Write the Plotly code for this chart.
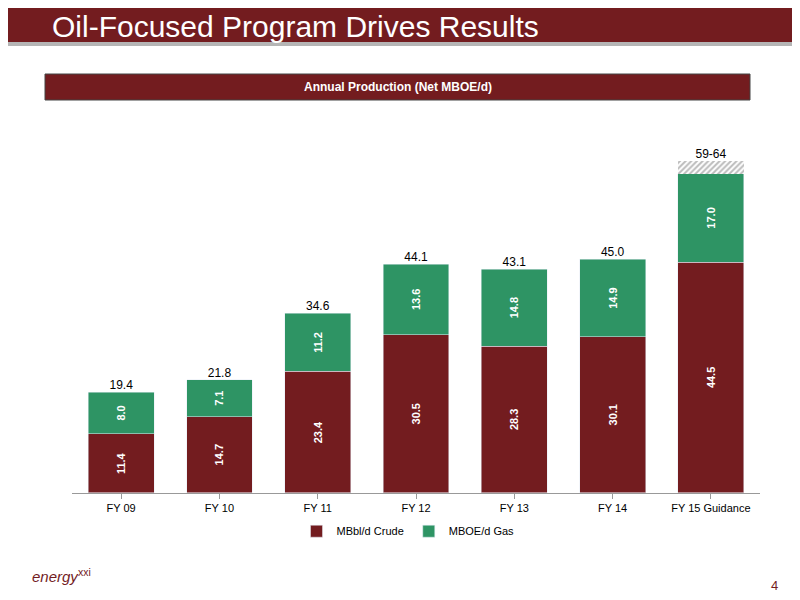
import plotly.graph_objects as go

years = ["FY 09", "FY 10", "FY 11", "FY 12", "FY 13", "FY 14", "FY 15 Guidance"]
crude = [11.4, 14.7, 23.4, 30.5, 28.3, 30.1, 44.5]
gas = [8.0, 7.1, 11.2, 13.6, 14.8, 14.9, 17.0]
upside = [0, 0, 0, 0, 0, 0, 2.5]
totals = ["19.4", "21.8", "34.6", "44.1", "43.1", "45.0", "59-64"]

RED = "#731c1f"
GREEN = "#2e9464"

fig = go.Figure()
fig.add_bar(x=years, y=crude, name="MBbl/d Crude", marker_color=RED,
            text=[f"<b>{v:.1f}</b>" for v in crude], textposition="inside",
            textangle=-90, insidetextanchor="middle",
            textfont=dict(color="white", size=11))
fig.add_bar(x=years, y=gas, name="MBOE/d Gas", marker_color=GREEN,
            text=[f"<b>{v:.1f}</b>" for v in gas], textposition="inside",
            textangle=-90, insidetextanchor="middle",
            textfont=dict(color="white", size=11))
fig.add_bar(x=years, y=upside, showlegend=False, hoverinfo="skip",
            marker=dict(color="white", line=dict(width=0),
                        pattern=dict(shape="/", fgcolor="#777777", bgcolor="white", size=4, solidity=0.5)))
tops = [c + g + u for c, g, u in zip(crude, gas, upside)]
fig.add_scatter(x=years, y=tops, mode="text", text=totals, textposition="top center",
                textfont=dict(size=12, color="black"), showlegend=False, hoverinfo="skip")

fig.update_layout(
    width=800, height=600, barmode="stack", bargap=0.33,
    paper_bgcolor="white", plot_bgcolor="white",
    font=dict(family="Liberation Sans, Arial", color="black"),
    margin=dict(l=0, r=0, t=0, b=0),
    xaxis=dict(domain=[0.08, 0.94], showline=True, linecolor="#999999",
               ticks="outside", tickcolor="#999999", tickfont=dict(size=11)),
    yaxis=dict(domain=[0.192, 0.797], range=[0, 70], visible=False),
    legend=dict(orientation="h", x=0.5, xanchor="center", y=0.128, yanchor="middle",
                traceorder="normal", font=dict(size=11), itemwidth=30),
    shapes=[
        dict(type="rect", xref="paper", yref="paper", x0=0, x1=1, y0=1 - 34 / 600, y1=1,
             fillcolor=RED, line=dict(width=0), layer="below"),
        dict(type="rect", xref="paper", yref="paper", x0=0, x1=1, y0=1 - 38 / 600, y1=1 - 34 / 600,
             fillcolor="#b5b5b5", line=dict(width=0), layer="below"),
        dict(type="rect", xref="paper", yref="paper", x0=37 / 800, x1=742 / 800,
             y0=1 - 92 / 600, y1=1 - 66 / 600,
             fillcolor=RED, line=dict(color="#444444", width=1), layer="below"),
    ],
    annotations=[
        dict(text="Oil-Focused Program Drives Results", xref="paper", yref="paper",
             x=42 / 800, y=1 - 18 / 600, xanchor="left", yanchor="middle", showarrow=False,
             font=dict(size=30, color="white")),
        dict(text="<b>Annual Production (Net MBOE/d)</b>", xref="paper", yref="paper",
             x=390 / 800, y=1 - 79 / 600, xanchor="center", yanchor="middle", showarrow=False,
             font=dict(size=12, color="white")),
        dict(text="<i>energy</i><sup>xxi</sup>", xref="paper", yref="paper",
             x=22 / 800, y=1 - 567 / 600, xanchor="left", yanchor="middle", showarrow=False,
             font=dict(size=15, color=RED)),
        dict(text="4", xref="paper", yref="paper", x=772 / 800, y=1 - 577 / 600,
             xanchor="right", yanchor="middle", showarrow=False,
             font=dict(size=13, color=RED)),
    ],
)

fig.write_html("out.html")
